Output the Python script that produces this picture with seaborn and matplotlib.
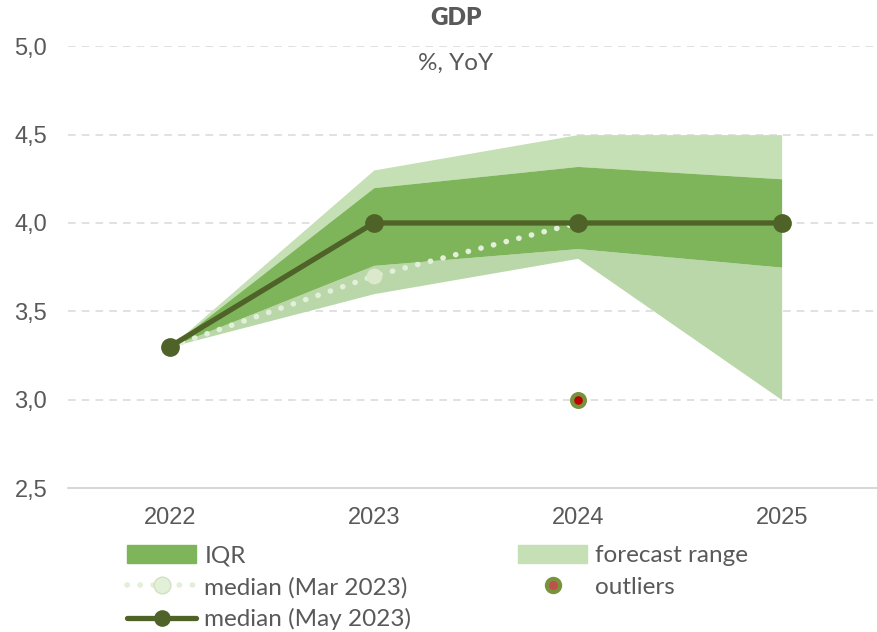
import numpy as np
import pandas as pd
import matplotlib
matplotlib.use('Agg')
import matplotlib.pyplot as plt
import seaborn as sns
from matplotlib.patches import Patch
from matplotlib.lines import Line2D

# --- data ---
years = ["2022", "2023", "2024", "2025"]
range_low = [3.3, 3.6, 3.8, 3.0]
range_high = [3.3, 4.3, 4.5, 4.5]
iqr_low = [3.3, 3.76, 3.855, 3.75]
iqr_high = [3.3, 4.2, 4.32, 4.25]
median_mar = [3.3, 3.7, 4.0]
median_may = [3.3, 4.0, 4.0, 4.0]
outlier_year = ["2024"]
outlier_val = [3.0]

sns.set_theme(style="white")
plt.rcParams['font.family'] = ['Lato', 'DejaVu Sans']
TXT = "#595959"
TICKFONT = ['Liberation Sans', 'DejaVu Sans']

x = np.arange(len(years))
df_may = pd.DataFrame({"x": x, "v": median_may})
df_mar = pd.DataFrame({"x": x[:len(median_mar)], "v": median_mar})
df_out = pd.DataFrame({"x": [years.index(y) for y in outlier_year], "v": outlier_val})

fig = plt.figure(figsize=(8.77, 6.32), dpi=100)
ax = fig.add_axes([0.0775, 0.2278, 0.930, 0.699])

# bands
ax.fill_between(x, iqr_high, range_high, color="#C5E0B4", lw=0, zorder=1)
ax.fill_between(x, range_low, iqr_low, color="#B9D7A8", lw=0, zorder=1)
ax.fill_between(x, iqr_low, iqr_high, color="#7EB55A", lw=0, zorder=2)

# medians
sns.lineplot(data=df_mar, x="x", y="v", ax=ax, color="#E2EFD9", lw=4,
             linestyle=(0, (0.05, 2.3)), dash_capstyle="round", zorder=3)
sns.scatterplot(data=df_mar, x="x", y="v", ax=ax, color="#DCE8CC", s=130,
                linewidth=0, zorder=3)
sns.lineplot(data=df_may, x="x", y="v", ax=ax, color="#4F6228", lw=3.8,
             marker="o", markersize=13.5, markeredgewidth=0, zorder=4)

# outliers
sns.scatterplot(data=df_out, x="x", y="v", ax=ax, color="#C00000", s=85,
                edgecolor="#77933C", linewidth=3, zorder=5)

ax.set_xlim(-0.5, 3.5)
ax.set_ylim(2.5, 5.0)
ax.set_yticks([2.5, 3.0, 3.5, 4.0, 4.5, 5.0])
ax.set_yticklabels(["2,5", "3,0", "3,5", "4,0", "4,5", "5,0"])
ax.set_xticks(x)
ax.set_xticklabels(years)
ax.tick_params(axis='x', length=0, pad=14)
ax.tick_params(axis='y', length=0, pad=15)
ax.set_xticks(np.arange(-0.5, 4.0, 1.0), minor=True)
ax.tick_params(axis='x', which='minor', length=5.5, width=1, color="#D0D0D0", direction='out')
for lab in ax.get_xticklabels() + ax.get_yticklabels():
    lab.set_fontfamily(TICKFONT)
    lab.set_fontsize(17)
    lab.set_color(TXT)
for v in [3.0, 3.5, 4.0, 4.5, 5.0]:
    ax.axhline(v, color="#D9D9D9", lw=1.1, linestyle=(0, (5, 4)), zorder=0)
ax.set_xlabel("")
ax.set_ylabel("")
for s in ["top", "right", "left"]:
    ax.spines[s].set_visible(False)
ax.spines["bottom"].set_color("#D0D0D0")
ax.spines["bottom"].set_linewidth(1.2)

fig.text(0.52, 0.972, "GDP", ha="center", va="center", fontsize=17.5,
         fontweight="heavy", color=TXT)
fig.text(0.52, 0.899, "%, YoY", ha="center", va="center", fontsize=17.5, color=TXT)

h_iqr = Patch(color="#7EB55A", label="IQR")
h_mar = Line2D([0], [0], color="#E2EFD9", lw=4, linestyle=(0, (0.05, 2.3)),
               dash_capstyle="round", marker="o", markersize=12,
               markerfacecolor="#E2EFD9", markeredgecolor="#D3E2BD", label="median (Mar 2023)")
h_may = Line2D([0], [0], color="#4F6228", lw=3.8, solid_capstyle="round", marker="o",
               markersize=12, markeredgewidth=0, label="median (May 2023)")
h_rng = Patch(color="#C5E0B4", label="forecast range")
h_out = Line2D([0], [0], lw=0, marker="o", markersize=9.5, markerfacecolor="#C0504D",
               markeredgecolor="#77933C", markeredgewidth=3, label="outliers")

kw = dict(loc="upper left", frameon=False, fontsize=17.5, handlelength=2.85,
          handleheight=0.75, labelspacing=0.42, handletextpad=0.33,
          borderaxespad=0, borderpad=0)
leg1 = fig.legend(handles=[h_iqr, h_mar, h_may], bbox_to_anchor=(127 / 877, 1 - 545 / 632), **kw)
leg2 = fig.legend(handles=[h_rng, h_out], bbox_to_anchor=(518 / 877, 1 - 545 / 632), **kw)
for leg in (leg1, leg2):
    for t in leg.get_texts():
        t.set_color(TXT)

fig.savefig("out.png", dpi=100)
